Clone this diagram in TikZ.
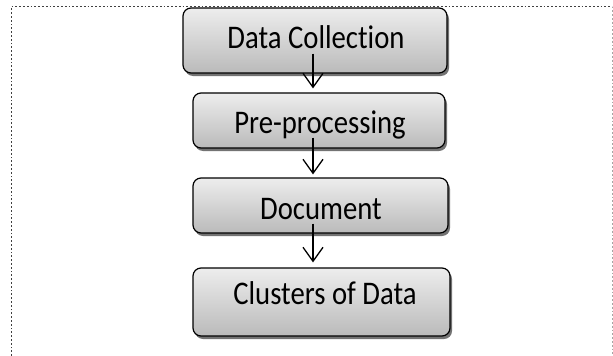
\documentclass[tikz,border=0pt]{standalone}
\usepackage{fontspec}
\setmainfont{Carlito}[Ligatures={NoCommon,TeX}]
\usetikzlibrary{arrows.meta,calc}

\tikzset{
  stage/.style={draw=black, line width=1.2pt, rounded corners=8pt,
    top color=black!7, bottom color=black!27, inner sep=0pt},
  stageshadow/.style={fill=black!55, rounded corners=8pt},
  label/.style={font=\fontsize{33}{33}\selectfont\addfontfeatures{FakeStretch=0.87},
    anchor=base, inner sep=0pt, text=black},
  flow/.style={line width=1.3pt, -{Straight Barb[length=14pt,width=20pt,line width=1.3pt]}},
  frameline/.style={line width=1.8pt, dotted, black!75}
}

\begin{document}
\begin{tikzpicture}[x=1pt,y=-1pt]
  \useasboundingbox (0,0) rectangle (613,356);

  % page frame
  \draw[frameline] (11.5,356) -- (11.5,6.5) -- (612,6.5);
  \draw[frameline, black!35, line width=1pt] (612,6.5) -- (612,356);

  % stage shadows
  \fill[stageshadow] (185,11) rectangle (449,76);
  \fill[stageshadow] (195,96) rectangle (447,151);
  \fill[stageshadow] (195,181) rectangle (450,236);
  \fill[stageshadow] (195,271) rectangle (452,339);

  % stages
  \node[stage, minimum width=264pt, minimum height=65pt] (b1) at (315,40.5) {};
  \node[stage, minimum width=252pt, minimum height=55pt] (b2) at (319,120.5) {};
  \node[stage, minimum width=255pt, minimum height=55pt] (b3) at (320.5,205.5) {};
  \node[stage, minimum width=257pt, minimum height=68pt] (b4) at (321.5,302) {};

  % stage captions
  \node[label] (t1) at (316,48) {Data Collection};
  \node[label] (t2) at (320,133) {Pre-processing};
  \node[label] (t3) at (321,219) {Document};
  \node[label] (t4) at (325,304) {Clusters of Data};

  % flow between stages
  \draw[flow] ([xshift=-2pt,yshift=20pt]b1.south) -- ([xshift=-6pt,yshift=4pt]b2.north);
  \draw[flow] ([xshift=-6pt,yshift=11pt]b2.south) -- ([xshift=-7.5pt,yshift=3pt]b3.north);
  \draw[flow] ([xshift=-7.5pt,yshift=10pt]b3.south) -- ([xshift=-8.5pt,yshift=5pt]b4.north);
\end{tikzpicture}
\end{document}
